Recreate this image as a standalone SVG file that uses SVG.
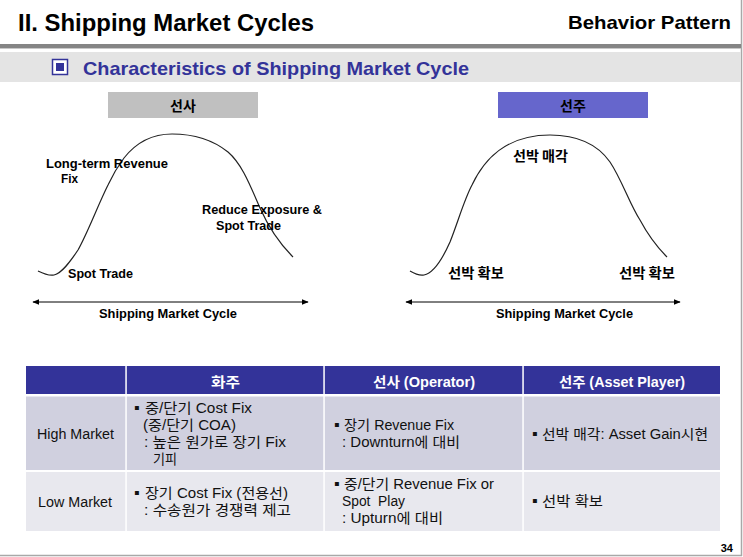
<svg xmlns="http://www.w3.org/2000/svg" width="743" height="557" viewBox="0 0 743 557">
<defs>
<marker id="ah" viewBox="0 0 10 10" refX="9" refY="5" markerWidth="7" markerHeight="7" orient="auto-start-reverse" markerUnits="userSpaceOnUse">
<path d="M0,1 L10,5 L0,9 Z" fill="#000"/>
</marker>
<style>
.t{font-family:"Liberation Sans","Noto Sans CJK KR",sans-serif;}
.b{font-weight:bold;}
.lab{font-family:"Liberation Sans","Noto Sans CJK KR",sans-serif;font-weight:bold;font-size:12.5px;fill:#000;}
.kl{font-family:"Noto Sans CJK KR","Liberation Sans",sans-serif;font-weight:bold;font-size:14px;fill:#000;}
.cell{font-family:"Liberation Sans","Noto Sans CJK KR",sans-serif;font-size:14px;fill:#111;}
.hd{font-family:"Liberation Sans","Noto Sans CJK KR",sans-serif;font-size:14px;font-weight:bold;fill:#fff;}
.bl{font-size:16px;}
.curve{fill:none;stroke:#222;stroke-width:1.2;}
.axis{stroke:#000;stroke-width:1;marker-start:url(#ah);marker-end:url(#ah);}
.r1{fill:#d0d0df;}
.r2{fill:#e8e8ee;}
</style>
</defs>
<rect x="0" y="0" width="743" height="557" fill="#fff"/>
<g id="frame">
<line x1="741.5" y1="0" x2="741.5" y2="556" stroke="#a8a8a8" stroke-width="1.5"/>
<line x1="0" y1="555.5" x2="742" y2="555.5" stroke="#a8a8a8" stroke-width="1.5"/>
</g>
<g id="header">
<text class="t b" x="18" y="31" font-size="23" textLength="296" lengthAdjust="spacingAndGlyphs">II. Shipping Market Cycles</text>
<text class="t b" x="568" y="29" font-size="19" textLength="163" lengthAdjust="spacingAndGlyphs">Behavior Pattern</text>
<rect x="0" y="44" width="741" height="4" fill="#858585"/>
<rect x="0" y="48" width="741" height="1" fill="#c8c8c8"/>
<rect x="0" y="52" width="741" height="30" fill="#e4e4e4"/>
<rect x="52.5" y="59.5" width="15" height="15" fill="#fff" stroke="#333399" stroke-width="1.5"/>
<rect x="56" y="63" width="8" height="8" fill="#333399"/>
<text class="t b" x="83" y="75" font-size="19" fill="#333399" textLength="386" lengthAdjust="spacingAndGlyphs">Characteristics of Shipping Market Cycle</text>
</g>
<g id="chart-operator">
<rect x="108" y="92" width="150" height="26" fill="#c0c0c0"/>
<text class="kl" x="183" y="110.5" font-size="15" text-anchor="middle">선사</text>
<path class="curve" d="M38,271 C44,274 49,276 54,275 C62,273 70,262 78,250 C88,232 98,205 108,185 C114,172 118,166 124,158 C135,144 150,134 172,134 C195,134 213,140 228,152 C242,164 250,185 260,208 C268,226 280,244 293,257"/>
<text class="lab" x="46" y="168" textLength="122" lengthAdjust="spacingAndGlyphs">Long-term Revenue</text>
<text class="lab" x="61" y="183" textLength="17" lengthAdjust="spacingAndGlyphs">Fix</text>
<text class="lab" x="202" y="214" textLength="120" lengthAdjust="spacingAndGlyphs">Reduce Exposure &amp;</text>
<text class="lab" x="216" y="230" textLength="65" lengthAdjust="spacingAndGlyphs">Spot Trade</text>
<text class="lab" x="68" y="278" textLength="65" lengthAdjust="spacingAndGlyphs">Spot Trade</text>
<text class="lab" x="99" y="318" textLength="138" lengthAdjust="spacingAndGlyphs">Shipping Market Cycle</text>
</g>
<g id="chart-owner">
<rect x="498" y="92" width="150" height="26" fill="#6666cc"/>
<text class="kl" x="573" y="110.5" font-size="15" text-anchor="middle">선주</text>
<path class="curve" d="M410,271 C415,274 419,276 424,275 C434,273 442,260 450,242 C458,222 464,200 472,185 C484,160 505,135 550,135 C580,135 598,145 610,162 C622,180 630,205 640,220 C648,235 658,248 667,257"/>
<text class="kl" x="513" y="161" textLength="55" lengthAdjust="spacingAndGlyphs">선박 매각</text>
<text class="kl" x="448" y="278" textLength="56" lengthAdjust="spacingAndGlyphs">선박 확보</text>
<text class="kl" x="619" y="278" textLength="56" lengthAdjust="spacingAndGlyphs">선박 확보</text>
<text class="lab" x="496" y="318" textLength="137" lengthAdjust="spacingAndGlyphs">Shipping Market Cycle</text>
</g>
<g id="connectors">
<line class="axis" x1="33" y1="302" x2="308" y2="302"/>
<line class="axis" x1="406" y1="302" x2="680" y2="302"/>
</g>
<g id="table">
<rect x="26" y="366" width="694" height="28" fill="#333399"/>
<rect x="26" y="396.5" width="694" height="73.5" class="r1"/>
<rect x="26" y="472" width="694" height="59" class="r2"/>
<rect x="125.3" y="366" width="1.5" height="165" fill="#fff"/>
<rect x="323.3" y="366" width="1.5" height="165" fill="#fff"/>
<rect x="522.3" y="366" width="1.5" height="165" fill="#fff"/>
<text class="hd" x="211" y="387" textLength="29" lengthAdjust="spacingAndGlyphs">화주</text>
<text class="hd" x="373" y="387" textLength="102" lengthAdjust="spacingAndGlyphs">선사 (Operator)</text>
<text class="hd" x="559" y="387" textLength="126" lengthAdjust="spacingAndGlyphs">선주 (Asset Player)</text>
<text class="cell" x="37" y="439" textLength="77" lengthAdjust="spacingAndGlyphs">High Market</text>
<text class="cell" x="38" y="507" textLength="74" lengthAdjust="spacingAndGlyphs">Low Market</text>
<text class="cell" x="134" y="413"><tspan class="bl">▪</tspan><tspan x="145" textLength="107" lengthAdjust="spacingAndGlyphs">중/단기 Cost Fix</tspan></text>
<text class="cell" x="143" y="430" textLength="93" lengthAdjust="spacingAndGlyphs">(중/단기 COA)</text>
<text class="cell" x="144" y="447" textLength="142" lengthAdjust="spacingAndGlyphs">: 높은 원가로 장기 Fix</text>
<text class="cell" x="153" y="464" textLength="24" lengthAdjust="spacingAndGlyphs">기피</text>
<text class="cell" x="134" y="498"><tspan class="bl">▪</tspan><tspan x="145" textLength="143" lengthAdjust="spacingAndGlyphs">장기 Cost Fix (전용선)</tspan></text>
<text class="cell" x="144" y="515" textLength="147" lengthAdjust="spacingAndGlyphs">: 수송원가 경쟁력 제고</text>
<text class="cell" x="334" y="430"><tspan class="bl">▪</tspan><tspan x="344" textLength="110" lengthAdjust="spacingAndGlyphs">장기 Revenue Fix</tspan></text>
<text class="cell" x="342" y="447" textLength="118" lengthAdjust="spacingAndGlyphs">: Downturn에 대비</text>
<text class="cell" x="334" y="489"><tspan class="bl">▪</tspan><tspan x="344" textLength="150" lengthAdjust="spacingAndGlyphs">중/단기 Revenue Fix or</tspan></text>
<text class="cell" x="342" y="506" xml:space="preserve" textLength="63" lengthAdjust="spacingAndGlyphs">Spot  Play</text>
<text class="cell" x="342" y="523" textLength="101" lengthAdjust="spacingAndGlyphs">: Upturn에 대비</text>
<text class="cell" x="532" y="439"><tspan class="bl">▪</tspan><tspan x="542" textLength="166" lengthAdjust="spacingAndGlyphs">선박 매각: Asset Gain시현</tspan></text>
<text class="cell" x="532" y="506"><tspan class="bl">▪</tspan><tspan x="542" textLength="61" lengthAdjust="spacingAndGlyphs">선박 확보</tspan></text>
</g>
<text class="t b" x="733" y="552" font-size="11" text-anchor="end">34</text>
</svg>
